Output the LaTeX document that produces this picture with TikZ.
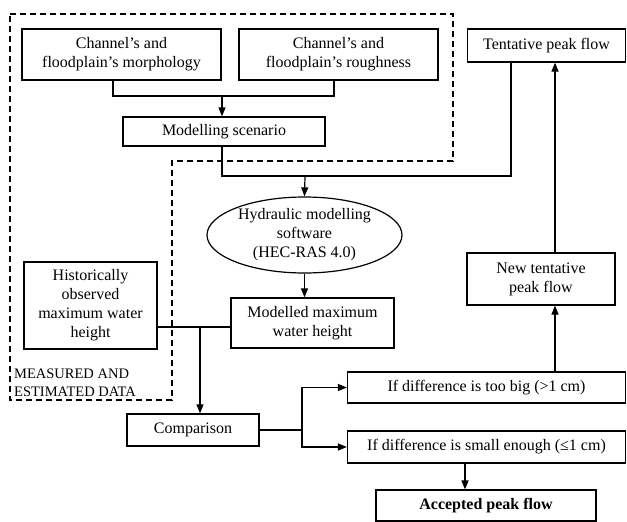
\documentclass[tikz,border=0pt]{standalone}
\usepackage{fontspec}
\setmainfont{Liberation Serif}
\usetikzlibrary{arrows.meta,shapes.geometric}
\begin{document}
\begin{tikzpicture}[x=1pt,y=-1pt,
  every node/.style={font=\fontsize{16}{19}\selectfont},
  box/.style={draw,line width=1.2pt,align=center,inner sep=0pt,anchor=center},
  conn/.style={line width=1.2pt},
  arr/.style={line width=1.2pt,-{Triangle[length=9pt,width=7pt]}}]
\useasboundingbox (0,0) rectangle (627,522);
% dashed region
\draw[line width=1.2pt,dash pattern=on 6pt off 4pt] (10,14) -- (453,14) -- (453,161) -- (172,161) -- (172,400) -- (10,400) -- cycle;
\node[anchor=north west,align=left,inner sep=0pt,font=\fontsize{14.5}{18}\selectfont] (lbl) at (14,369) {MEASURED AND\\ESTIMATED DATA};
% boxes
\node[box,minimum width=199,minimum height=51] (morph) at (121.5,54.5) {Channel’s and\\floodplain’s morphology};
\node[box,minimum width=199,minimum height=51] (rough) at (338.5,54.5) {Channel’s and\\floodplain’s roughness};
\node[box,minimum width=202,minimum height=29] (scen) at (224,131.5) {Modelling scenario};
\node[box,minimum width=158,minimum height=33] (tent) at (546.5,45.5) {Tentative peak flow};
\node[box,ellipse,minimum width=195,minimum height=76] (soft) at (304.5,235) {Hydraulic modelling\\software\\(HEC-RAS 4.0)};
\node[box,minimum width=148,minimum height=52] (newt) at (541,279) {New tentative\\peak flow};
\node[box,minimum width=133,minimum height=87] (hist) at (90.5,305.5) {Historically\\observed\\maximum water\\height};
\node[box,minimum width=163,minimum height=50] (modl) at (312.5,323) {Modelled maximum\\water height};
\node[box,minimum width=132,minimum height=32] (comp) at (193,430) {Comparison};
\node[box,minimum width=278,minimum height=31] (big) at (486.5,387.5) {If difference is too big (>1 cm)};
\node[box,minimum width=278,minimum height=32] (small) at (486.5,447) {If difference is small enough (≤1 cm)};
\node[box,minimum width=220,minimum height=31,font=\fontsize{16}{19}\selectfont\bfseries] (acc) at (486,505.5) {Accepted peak flow};
% coordinates
\coordinate (j1) at (222,96);
\coordinate (j2) at (305,176);
\coordinate (j3) at (200,327);
\coordinate (j4) at (302,430);
\coordinate (up) at (555,0);
\coordinate (tk) at (511,0);
\coordinate (dn) at (465,0);
% connectors
\draw[conn] ([xshift=-8.5pt]morph.south) |- (j1) -| ([xshift=-4.5pt]rough.south);
\draw[arr] (j1) -- (j1 |- scen.north);
\draw[conn] (j1 |- scen.south) |- (j2) -| (tk |- tent.south);
\draw[arr] (j2) -- (soft.north);
\draw[arr] (soft.south) -- (soft.south |- modl.north);
\draw[conn] (hist.east |- j3) -- (modl.west |- j3);
\draw[arr] (j3) -- (j3 |- comp.north);
\draw[conn] (comp.east) -- (j4);
\draw[arr] (j4) |- (big.west);
\draw[arr] (j4) |- (small.west);
\draw[arr] (dn |- small.south) -- (dn |- acc.north);
\draw[arr] (up |- big.north) -- (up |- newt.south);
\draw[arr] (up |- newt.north) -- (up |- tent.south);
\end{tikzpicture}
\end{document}
